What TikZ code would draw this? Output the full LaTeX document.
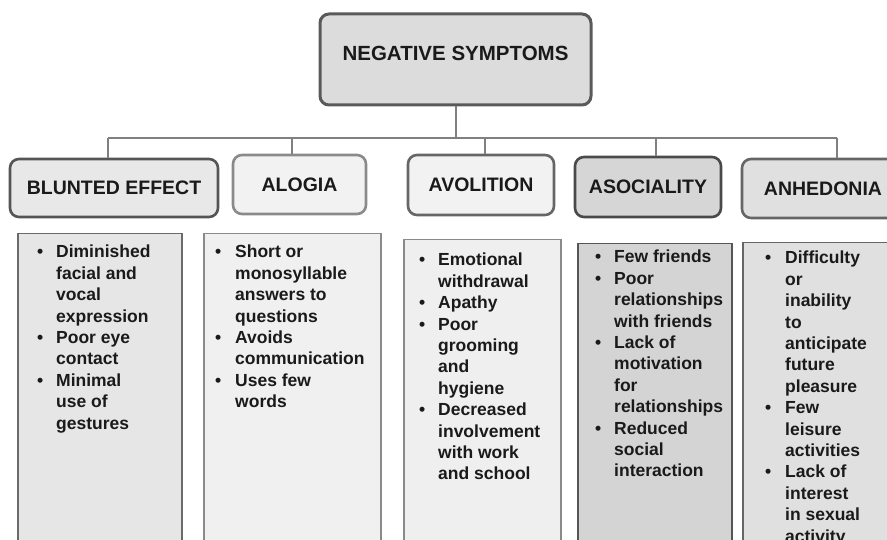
\documentclass[tikz,border=0pt]{standalone}
\usepackage{fontspec}
\setmainfont{Liberation Sans}
\definecolor{txt}{HTML}{1A1A1A}
\definecolor{linec}{HTML}{808080}
\definecolor{ftop}{HTML}{DCDCDC}
\definecolor{dtop}{HTML}{5A5A5A}
\definecolor{fone}{HTML}{E8E8E8}
\definecolor{ftwo}{HTML}{F2F2F2}
\definecolor{ffour}{HTML}{D6D6D6}
\definecolor{ffive}{HTML}{E0E0E0}
\definecolor{gA}{HTML}{555555}
\definecolor{gB}{HTML}{8A8A8A}
\definecolor{gC}{HTML}{666666}
\definecolor{gD}{HTML}{4A4A4A}
\definecolor{gE}{HTML}{6A6A6A}
\definecolor{bone}{HTML}{E6E6E6}
\definecolor{btwo}{HTML}{F0F0F0}
\definecolor{bthree}{HTML}{EFEFEF}
\definecolor{bfour}{HTML}{D4D4D4}
\definecolor{bfive}{HTML}{E0E0E0}
\begin{document}
\begin{tikzpicture}[x=1pt,y=-1pt,
  hdr/.style={draw, rounded corners=9pt, line width=2.6pt, font=\bfseries\fontsize{19.5}{22}\selectfont, text=txt, inner sep=0pt},
  body/.style={draw, line width=1.5pt, anchor=north west, inner sep=0pt},
  list/.style={anchor=base west, inner sep=0pt, font=\bfseries\fontsize{17.5}{21.4}\selectfont, text=txt},
  conn/.style={draw=linec, line width=2pt}]
\useasboundingbox (0,0) rectangle (887,540);
\clip (0,0) rectangle (887,540);

% top node
\node[hdr, fill=ftop, draw=dtop, line width=3pt, minimum width=271pt, minimum height=91pt, text depth=13pt, font=\bfseries\fontsize{20.5}{24}\selectfont] (top) at (455.5,59.5) {NEGATIVE SYMPTOMS};

% headers
\node[hdr, fill=fone, draw=gA, minimum width=208pt, minimum height=58pt] (h1) at (114,188) {BLUNTED EFFECT};
\node[hdr, fill=ftwo, draw=gB, minimum width=133pt, minimum height=59pt] (h2) at (299.5,184.5) {ALOGIA};
\node[hdr, fill=ftwo, draw=gC, minimum width=146pt, minimum height=60pt] (h3) at (481,185) {AVOLITION};
\node[hdr, fill=ffour, draw=gD, minimum width=146pt, minimum height=60pt] (h4) at (648,187) {ASOCIALITY};
\node[hdr, fill=ffive, draw=gC, minimum width=162pt, minimum height=59pt] (h5) at (823,188.5) {ANHEDONIA};

% connectors
\coordinate (d1) at (108,138);
\coordinate (d2) at (292,138);
\coordinate (d3) at (485,138);
\coordinate (d4) at (656,138);
\coordinate (d5) at (837,138);
\draw[conn] (top.south) -- (top.south |- d1);
\draw[conn] (d1) -- (d5);
\draw[conn] (d1) -- (d1 |- h1.north);
\draw[conn] (d2) -- (d2 |- h2.north);
\draw[conn] (d3) -- (d3 |- h3.north);
\draw[conn] (d4) -- (d4 |- h4.north);
\draw[conn] (d5) -- (d5 |- h5.north);

% body boxes
\node[body, fill=bone, draw=gE, minimum width=164pt, minimum height=330pt] (b1) at (17,233) {};
\node[body, fill=btwo, draw=gB, minimum width=177pt, minimum height=330pt] (b2) at (203,233) {};
\node[body, fill=bthree, draw=gB, minimum width=157pt, minimum height=330pt] (b3) at (403,239) {};
\node[body, fill=bfour, draw=gA, minimum width=154pt, minimum height=330pt] (b4) at (577,243) {};
\node[body, fill=bfive, draw=gC, minimum width=170pt, minimum height=330pt] (b5) at (742,242) {};

% lists
\node[list] (t1) at (37,258) {\begin{tabular}[t]{@{}p{19pt}@{}l@{}}
\textbullet & Diminished\\ & facial and\\ & vocal\\ & expression\\
\textbullet & Poor eye\\ & contact\\
\textbullet & Minimal\\ & use of\\ & gestures
\end{tabular}};
\node[list] (t2) at (215,258) {\begin{tabular}[t]{@{}p{20pt}@{}l@{}}
\textbullet & Short or\\ & monosyllable\\ & answers to\\ & questions\\
\textbullet & Avoids\\ & communication\\
\textbullet & Uses few\\ & words
\end{tabular}};
\node[list] (t3) at (419,266) {\begin{tabular}[t]{@{}p{19pt}@{}l@{}}
\textbullet & Emotional\\ & withdrawal\\
\textbullet & Apathy\\
\textbullet & Poor\\ & grooming\\ & and\\ & hygiene\\
\textbullet & Decreased\\ & involvement\\ & with work\\ & and school
\end{tabular}};
\node[list] (t4) at (595,263) {\begin{tabular}[t]{@{}p{19pt}@{}l@{}}
\textbullet & Few friends\\
\textbullet & Poor\\ & relationships\\ & with friends\\
\textbullet & Lack of\\ & motivation\\ & for\\ & relationships\\
\textbullet & Reduced\\ & social\\ & interaction
\end{tabular}};
\node[list] (t5) at (765,264) {\begin{tabular}[t]{@{}p{20pt}@{}l@{}}
\textbullet & Difficulty\\ & or\\ & inability\\ & to\\ & anticipate\\ & future\\ & pleasure\\
\textbullet & Few\\ & leisure\\ & activities\\
\textbullet & Lack of\\ & interest\\ & in sexual\\ & activity
\end{tabular}};
\end{tikzpicture}
\end{document}
